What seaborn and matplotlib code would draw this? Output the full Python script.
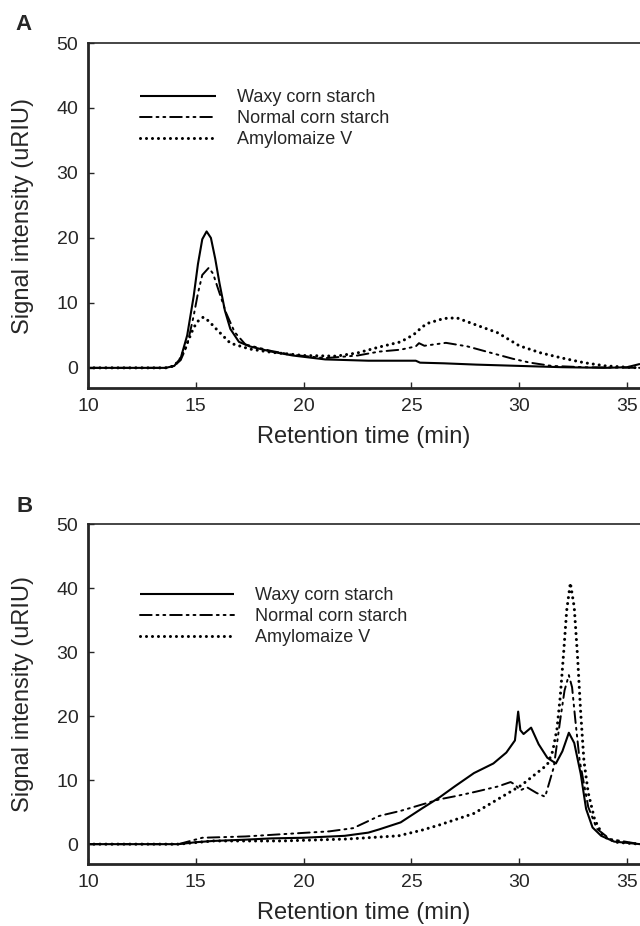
import pandas as pd
import seaborn as sns
import matplotlib.pyplot as plt

sns.set_theme(style="ticks")
plt.rcParams["font.family"] = ["Liberation Sans", "DejaVu Sans"]

samples = ["Waxy corn starch", "Normal corn starch", "Amylomaize V"]

# Panel A, retention time (min) and signal (uRIU)
a_waxy_t = [10, 13.6, 14.0, 14.3, 14.6, 14.9, 15.1, 15.3, 15.5, 15.7, 15.9, 16.1, 16.35, 16.6, 17.0, 17.5, 18.5, 19.5, 21.0, 23.0, 25.2, 25.4, 26.5, 28.0, 30.0, 32.0, 34.0, 35.0, 35.6]
a_waxy_y = [0, 0, 0.3, 1.5, 5.0, 11.0, 16.0, 19.8, 21.0, 20.0, 16.8, 13.0, 8.8, 6.0, 4.0, 3.3, 2.5, 1.9, 1.3, 1.1, 1.1, 0.8, 0.7, 0.5, 0.3, 0.1, 0.0, 0.1, 0.6]
a_norm_t = [10, 13.6, 14.0, 14.3, 14.6, 14.9, 15.1, 15.3, 15.6, 15.8, 16.0, 16.4, 16.8, 17.3, 18.5, 19.5, 21.0, 22.5, 23.5, 24.5, 25.2, 25.35, 25.6, 26.6, 27.6, 28.7, 29.7, 30.5, 31.5, 33.0, 35.6]
a_norm_y = [0, 0, 0.3, 1.2, 3.5, 8.0, 11.5, 14.3, 15.4, 14.5, 12.5, 8.5, 5.5, 3.6, 2.6, 2.0, 1.5, 1.9, 2.5, 2.8, 3.3, 3.8, 3.4, 3.85, 3.3, 2.3, 1.4, 0.8, 0.3, 0.1, 0]
a_amyl_t = [10, 13.6, 14.0, 14.3, 14.6, 14.9, 15.15, 15.35, 15.6, 16.0, 16.6, 17.5, 18.5, 20.0, 21.5, 22.5, 23.5, 24.5, 25.1, 25.4, 25.7, 26.5, 27.1, 28.0, 29.0, 30.0, 31.0, 32.0, 33.0, 34.0, 35.0, 35.6]
a_amyl_y = [0, 0, 0.3, 1.5, 3.8, 6.2, 7.4, 7.8, 7.2, 5.8, 3.8, 2.9, 2.4, 1.9, 1.8, 2.3, 3.2, 4.0, 5.1, 6.0, 6.8, 7.6, 7.7, 6.6, 5.4, 3.4, 2.3, 1.5, 0.8, 0.3, 0.1, 0]

# Panel B
b_waxy_t = [10, 14.2, 15.0, 15.8, 17.3, 18.5, 20.0, 21.9, 23.0, 23.5, 24.5, 25.5, 26.3, 27.0, 27.9, 28.8, 29.4, 29.8, 29.95, 30.05, 30.2, 30.55, 30.9, 31.3, 31.7, 32.0, 32.3, 32.55, 32.85, 33.1, 33.4, 33.8, 34.4, 35.6]
b_waxy_y = [0, 0, 0.3, 0.5, 0.7, 0.9, 1.0, 1.3, 1.8, 2.3, 3.4, 5.6, 7.3, 9.0, 11.1, 12.6, 14.3, 16.2, 20.7, 17.8, 17.2, 18.2, 15.6, 13.5, 12.6, 14.5, 17.4, 15.8, 11.0, 5.5, 2.6, 1.3, 0.4, 0]
b_norm_t = [10, 14.2, 15.3, 17.3, 19.7, 21.2, 22.3, 23.5, 24.5, 25.5, 26.3, 27.2, 28.0, 29.0, 29.6, 29.8, 30.05, 30.35, 30.8, 31.2, 31.6, 31.9, 32.1, 32.3, 32.45, 32.6, 32.8, 33.2, 33.6, 34.2, 35.6]
b_norm_y = [0, 0, 1.0, 1.2, 1.7, 2.0, 2.5, 4.4, 5.2, 6.2, 7.0, 7.6, 8.2, 9.0, 9.7, 9.3, 8.4, 8.9, 8.0, 7.4, 12.0, 19.4, 24.0, 26.4, 24.5, 19.4, 13.1, 5.8, 2.4, 0.8, 0]
b_amyl_t = [10, 14.2, 15.8, 19.0, 22.0, 24.4, 25.5, 26.3, 27.9, 29.4, 30.1, 30.7, 31.3, 31.55, 31.75, 31.9, 32.05, 32.2, 32.37, 32.55, 32.7, 32.85, 33.0, 33.2, 33.5, 33.9, 34.5, 35.6]
b_amyl_y = [0, 0, 0.5, 0.5, 0.8, 1.3, 2.2, 3.0, 4.8, 7.8, 9.2, 10.8, 12.4, 14.5, 18.0, 23.0, 29.5, 36.5, 40.8, 37.0, 29.5, 20.5, 13.0, 8.0, 3.8, 1.2, 0.3, 0]


def frame(series):
    rows = []
    for name, (t, y) in zip(samples, series):
        rows.append(pd.DataFrame({"time": t, "signal": y, "sample": name}))
    return pd.concat(rows, ignore_index=True)


data_a = frame([(a_waxy_t, a_waxy_y), (a_norm_t, a_norm_y), (a_amyl_t, a_amyl_y)])
data_b = frame([(b_waxy_t, b_waxy_y), (b_norm_t, b_norm_y), (b_amyl_t, b_amyl_y)])

dashes = {
    "Waxy corn starch": "",
    "Normal corn starch": (6, 2.5, 1, 2.5, 1, 2.5),
    "Amylomaize V": (0.01, 1.95),
}
widths = [1.5, 1.4, 2.2]
palette = {s: "black" for s in samples}

fig = plt.figure(figsize=(6.4, 9.26), dpi=100)
# axes boxes in figure fractions
ax_a = fig.add_axes([88 / 640, 1 - 388 / 926, 1 - 88 / 640, 345 / 926])
ax_b = fig.add_axes([88 / 640, 1 - 864 / 926, 1 - 88 / 640, 340 / 926])

legend_pos = {"A": (0.094, 0.867, 4.2), "B": (0.094, 0.815, 5.2)}
tag_pos = {"A": (24, 24), "B": (25, 507)}

for ax, data, tag in [(ax_a, data_a, "A"), (ax_b, data_b, "B")]:
    sns.lineplot(ax=ax, data=data, x="time", y="signal", hue="sample",
                 style="sample", palette=palette, dashes=dashes,
                 estimator=None, sort=False, legend=False)
    lines = ax.get_lines()[:3]
    for line, lw in zip(lines, widths):
        line.set_linewidth(lw)
        line.set_dash_capstyle("round")
        line.set_solid_capstyle("butt")
    ax.set_xlim(10, 35.6)
    ax.set_ylim(-3.1, 50)
    ax.set_xticks([10, 15, 20, 25, 30, 35])
    ax.set_yticks([0, 10, 20, 30, 40, 50])
    ax.tick_params(direction="in", length=4, width=1, labelsize=14, pad=7)
    ax.set_xlabel("Retention time (min)", fontsize=17, labelpad=8)
    ax.set_ylabel("Signal intensity (uRIU)", fontsize=17)
    ax.yaxis.set_label_coords(-54 / 552, 0.5)
    for side in ["left", "bottom"]:
        ax.spines[side].set_linewidth(2)
    ax.spines["top"].set_linewidth(1.2)
    ax.spines["right"].set_visible(False)
    lx, ly, hl = legend_pos[tag]
    ax.legend(lines, samples, loc="upper left", bbox_to_anchor=(lx, ly),
              frameon=False, fontsize=13, handlelength=hl, labelspacing=0.22,
              handletextpad=1.2, borderpad=0, borderaxespad=0)
    tx, ty = tag_pos[tag]
    fig.text(tx / 640, 1 - ty / 926, tag, fontsize=16, fontweight="bold",
             ha="center", va="center")

plt.savefig("out.png", dpi=100)
